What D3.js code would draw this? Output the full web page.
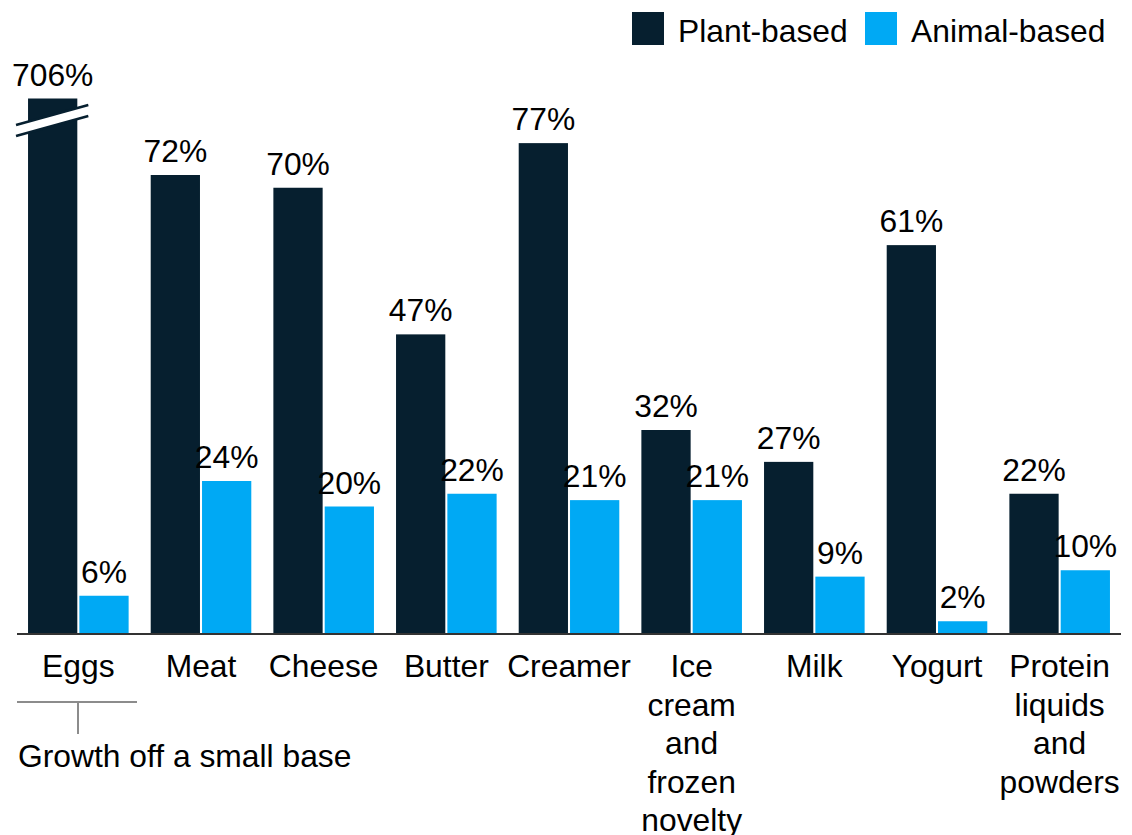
<!DOCTYPE html>
<html>
<head>
<meta charset="utf-8">
<script src="https://cdn.jsdelivr.net/npm/d3@7"></script>
<style>
  html, body { margin: 0; padding: 0; background: #fff; }
  svg { display: block; font-family: "Liberation Sans", Arial, sans-serif; }
</style>
</head>
<body>
<svg id="chart" width="1132" height="835"></svg>
<script>
const categories = ["Eggs", "Meat", "Cheese", "Butter", "Creamer", "Ice cream and frozen novelty", "Milk", "Yogurt", "Protein liquids and powders"];
const categoryLines = [["Eggs"], ["Meat"], ["Cheese"], ["Butter"], ["Creamer"], ["Ice", "cream", "and", "frozen", "novelty"], ["Milk"], ["Yogurt"], ["Protein", "liquids", "and", "powders"]];
const plantBased = [706, 72, 70, 47, 77, 32, 27, 61, 22];
const animalBased = [6, 24, 20, 22, 21, 21, 9, 2, 10];
const seriesNames = ["Plant-based", "Animal-based"];
const colors = ["#061f2f", "#00a9f4"];
const axisBreakAt = 84;   // values above this are drawn truncated with a break mark
const annotation = "Growth off a small base";

const svg = d3.select("#chart");
const fontSize = 31.8;
const baseY = 634;

const x0 = d3.scaleBand().domain(categories).range([17, 1121]).paddingInner(0.18).paddingOuter(0.09);
const x1 = d3.scaleBand().domain(seriesNames).range([0, x0.bandwidth()]).paddingInner(0.04);
const y = d3.scaleLinear().domain([0, 80]).range([baseY, baseY - 510]);

const rows = categories.map((c, i) => ({ cat: c, lines: categoryLines[i], vals: [plantBased[i], animalBased[i]] }));

const g = svg.append("g");
const groups = g.selectAll("g.grp").data(rows).join("g")
  .attr("class", "grp")
  .attr("transform", d => `translate(${x0(d.cat)},0)`);

groups.selectAll("rect").data(d => d.vals.map((v, k) => ({ v, k, s: seriesNames[k] }))).join("rect")
  .attr("x", d => x1(d.s))
  .attr("width", x1.bandwidth())
  .attr("y", d => y(Math.min(d.v, axisBreakAt)))
  .attr("height", d => baseY - y(Math.min(d.v, axisBreakAt)))
  .attr("fill", d => colors[d.k]);

groups.selectAll("text.val").data(d => d.vals.map((v, k) => ({ v, k, s: seriesNames[k] }))).join("text")
  .attr("class", "val")
  .attr("x", d => x1(d.s) + x1.bandwidth() / 2)
  .attr("y", d => y(Math.min(d.v, axisBreakAt)) - 13)
  .attr("text-anchor", "middle")
  .attr("font-size", fontSize)
  .attr("fill", "#000")
  .text(d => d.v + "%");

// Axis baseline
g.append("line")
  .attr("x1", 17).attr("x2", 1121)
  .attr("y1", baseY).attr("y2", baseY)
  .attr("stroke", "#333").attr("stroke-width", 2);

// Category labels
groups.append("text")
  .attr("text-anchor", "middle")
  .attr("font-size", fontSize)
  .attr("fill", "#000")
  .selectAll("tspan").data(d => d.lines).join("tspan")
  .attr("x", x0.bandwidth() / 2)
  .attr("y", (d, i) => 677 + i * 38.5)
  .text(d => d);

// Break marker on truncated bars
rows.forEach(r => {
  if (r.vals[0] > axisBreakAt) {
    const bx = x0(r.cat) + x1(seriesNames[0]);
    const left = bx - 12, right = bx + x1.bandwidth() + 11;
    const yl = 125, yr = 105, gap = 11;
    svg.append("polygon")
      .attr("points", `${left},${yl} ${right},${yr} ${right},${yr + gap} ${left},${yl + gap}`)
      .attr("fill", "#fff");
    [0, gap].forEach(o => svg.append("line")
      .attr("x1", left).attr("y1", yl + o).attr("x2", right).attr("y2", yr + o)
      .attr("stroke", colors[0]).attr("stroke-width", 2.5));
  }
});

// Bracket annotation under Eggs
svg.append("line").attr("x1", 17).attr("x2", 137).attr("y1", 702).attr("y2", 702)
  .attr("stroke", "#8c8c8c").attr("stroke-width", 2);
svg.append("line").attr("x1", 78).attr("x2", 78).attr("y1", 702).attr("y2", 734)
  .attr("stroke", "#8c8c8c").attr("stroke-width", 2);
svg.append("text").attr("x", 18).attr("y", 767)
  .attr("font-size", fontSize).attr("fill", "#000").text(annotation);

// Legend
const leg = svg.append("g");
const legItems = [{ n: seriesNames[0], c: colors[0], x: 632 }, { n: seriesNames[1], c: colors[1], x: 865 }];
legItems.forEach(it => {
  leg.append("rect").attr("x", it.x).attr("y", 12).attr("width", 32).attr("height", 33).attr("fill", it.c);
  leg.append("text").attr("x", it.x + 46).attr("y", 42).attr("font-size", fontSize).attr("fill", "#000").text(it.n);
});
</script>
</body>
</html>
